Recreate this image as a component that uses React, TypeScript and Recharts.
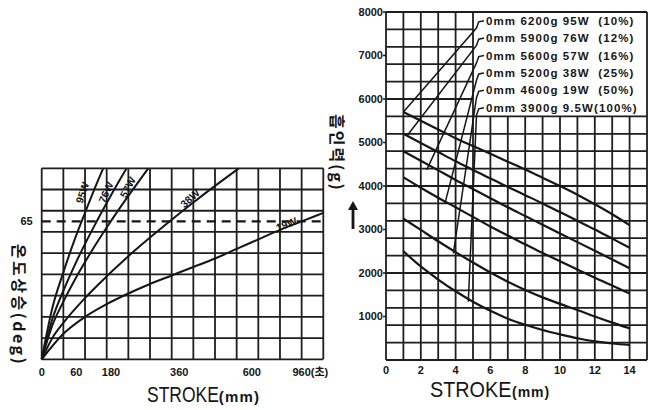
import React from 'react';
import { LineChart, Line, XAxis, YAxis, ReferenceLine, ReferenceDot } from 'recharts';

// ---------- left chart: 온도상승 (deg) vs time ----------
const leftGridX = [0, 1, 2, 3, 4, 5, 6, 7, 8, 9, 10, 11, 12, 13];
const leftGridY = [0, 10, 20, 30, 40, 50, 60, 70, 80, 90];
const leftTickPos = [0, 1.6, 3.2, 6.35, 9.7, 12.4];
const leftTickLabels = ['0', '60', '180', '360', '600', '960(초)'];
const leftYTicks = [65];
const limitTemp = 65;

const t95 = [0, 0.5, 1, 1.5, 2, 2.5, 2.84];
const v95 = [0, 24.5, 41, 55.8, 69, 81.8, 90];
const t76 = [0, 0.5, 1, 1.5, 2, 2.5, 3, 3.5, 3.92];
const v76 = [0, 19.2, 32.3, 43.8, 54.4, 64.2, 73.6, 82.7, 90];
const t57 = [0, 0.5, 1, 1.5, 2, 2.5, 3, 3.5, 4, 4.5, 4.92];
const v57 = [0, 16.2, 27.2, 36.9, 45.8, 54.2, 62.1, 69.7, 77, 84.1, 90];
const t38 = [0, 0.5, 1, 2, 3, 4, 5, 6, 7, 8, 9.1];
const v38 = [0, 10.2, 17.2, 28.9, 39.1, 48.6, 57.4, 65.8, 73.9, 81.7, 90];
const t19 = [0, 1, 2, 3, 4, 5, 6, 7, 8, 9, 10, 11, 12, 13];
const v19 = [0, 12, 20, 26, 31, 35.5, 39.5, 43.5, 47.5, 52, 56.5, 61, 65, 69];

const leftLabelText = ['95W', '76W', '57W', '38W', '19W'];
const leftLabelX = [1.88, 2.97, 3.98, 6.85, 11.3];
const leftLabelY = [78.5, 78.7, 81, 75.8, 63.6];
const leftLabelAngle = [-72, -66, -62, -42, -22];

// ---------- right chart: 흡인력 (g) vs stroke ----------
const rightGridX = [0, 1, 2, 3, 4, 5, 6, 7, 8, 9, 10, 11, 12, 13, 14, 15];
const rightGridY = [0, 400, 800, 1200, 1600, 2000, 2400, 2800, 3200, 3600, 4000, 4400, 4800, 5200, 5600, 6000, 6400, 6800, 7200, 7600, 8000];
const rightXTicks = [0, 2, 4, 6, 8, 10, 12, 14];
const rightYTicks = [1000, 2000, 3000, 4000, 5000, 6000, 7000, 8000];
const boxX = 5;
const boxY = 5600;

const stroke = [1, 2, 3, 4, 5, 6, 7, 8, 9, 10, 11, 12, 13, 14];
const f95 = [5700, 5500, 5300, 5100, 4920, 4740, 4560, 4380, 4190, 4000, 3800, 3580, 3350, 3100];
const f76 = [5200, 4990, 4780, 4570, 4370, 4170, 3980, 3790, 3600, 3400, 3200, 3000, 2790, 2580];
const f57 = [4800, 4580, 4360, 4140, 3930, 3720, 3510, 3310, 3110, 2910, 2710, 2510, 2310, 2110];
const f38 = [4200, 3960, 3730, 3510, 3290, 3070, 2860, 2660, 2460, 2270, 2080, 1890, 1710, 1530];
const f19 = [3250, 2990, 2730, 2480, 2240, 2010, 1800, 1610, 1440, 1290, 1150, 1000, 860, 730];
const f9 = [2500, 2150, 1850, 1580, 1340, 1130, 950, 810, 690, 590, 500, 430, 380, 345];

const legendText = [
  '0mm 6200g 95W\u00a0\u00a0(10%)',
  '0mm 5900g 76W\u00a0\u00a0(12%)',
  '0mm 5600g 57W\u00a0\u00a0(16%)',
  '0mm 5200g 38W\u00a0\u00a0(25%)',
  '0mm 4600g 19W\u00a0\u00a0(50%)',
  '0mm 3900g 9.5W(100%)',
];
const legendRow = [7800, 7400, 7000, 6600, 6200, 5800];
const leaderStartX = [1.0, 1.2, 2.34, 3.39, 3.87, 4.73];
const leaderStartY = [5700, 5150, 4370, 3600, 2450, 1340];
const legendX = 5.63;

const zip = (xs: number[], ys: number[]) => xs.map((x, i) => ({ x, y: ys[i] }));

const INK = '#161616';
const GRID = '#1e1e1e';
const tickFont = { fontSize: 11, fontWeight: 700, fill: INK, fontFamily: '"Liberation Sans", Arial, "Noto Sans CJK KR", sans-serif' };

const rotatedLabel = (txt: string, angle: number) => (p: any) => {
  const vb = p.viewBox || {};
  const cx = (vb.x || 0) + (vb.width || 0) / 2;
  const cy = (vb.y || 0) + (vb.height || 0) / 2;
  return (
    <text x={cx} y={cy} dy="0.35em" textAnchor="middle" transform={`rotate(${angle}, ${cx}, ${cy})`}
      fontSize={10.5} fontWeight={700} fill={INK} fontFamily='"Liberation Sans", Arial, sans-serif'>
      {txt}
    </text>
  );
};

const legendLabel = (txt: string) => (p: any) => {
  const vb = p.viewBox || {};
  return (
    <text x={(vb.x || 0) + 2} y={vb.y || 0} dy="0.36em" fontSize={11.5} fontWeight={700} fill={INK}
      letterSpacing={1.1} fontFamily='"Liberation Sans", Arial, sans-serif'>
      {txt}
    </text>
  );
};

const leftSeries = [zip(t95, v95), zip(t76, v76), zip(t57, v57), zip(t38, v38), zip(t19, v19)];
const rightSeries = [f95, f76, f57, f38, f19, f9].map((f) => zip(stroke, f));
const leaders = legendRow.map((row, i) => [
  { x: leaderStartX[i], y: leaderStartY[i] },
  { x: 5.2, y: row - 170 },
  { x: 5.33, y: row - 25 },
  { x: legendX, y: row },
]);

const vLabel = (left: number, top: number, text: string, size: number, spacing: number) => (
  <div style={{
    position: 'absolute', left, top, transform: 'translate(-50%, -50%) rotate(90deg)', whiteSpace: 'nowrap',
    fontSize: size, fontWeight: 700, letterSpacing: spacing, lineHeight: 1, color: INK,
    fontFamily: '"Noto Sans CJK KR", "Liberation Sans", sans-serif',
  }}>{text}</div>
);

const strokeTitle = (left: number, top: number, w: number, sx: number, mmSize: number, mmSpacing: number) => (
  <div style={{ position: 'absolute', left, top, display: 'flex', alignItems: 'baseline', whiteSpace: 'nowrap', color: INK, fontFamily: '"Liberation Sans", Arial, sans-serif', lineHeight: '22px' }}>
    <span style={{ display: 'inline-block', width: w, fontSize: 22, transform: `scaleX(${sx})`, transformOrigin: 'left' }}>STROKE</span>
    <span style={{ fontSize: mmSize, fontWeight: 700, letterSpacing: mmSpacing }}>(mm)</span>
  </div>
);

export default function App() {
  return (
    <div style={{ position: 'absolute', left: 0, top: 0, width: 657, height: 410, background: '#fff', overflow: 'hidden' }}>
      <div style={{ position: 'absolute', left: 0, top: 0 }}>
        <LineChart width={340} height={410} margin={{ top: 168.3, right: 16.7, bottom: 0, left: 0 }}>
          <XAxis type="number" dataKey="x" domain={[0, 13]} ticks={leftTickPos} interval={0}
            tickFormatter={(v: number) => leftTickLabels[leftTickPos.indexOf(v)]}
            axisLine={false} tickLine={false} tickSize={4} tickMargin={4.5} height={50.7} tick={tickFont} />
          <YAxis type="number" domain={[0, 90]} ticks={leftYTicks} interval={0} width={41.7}
            axisLine={false} tickLine={false} tickSize={4} tickMargin={5} tick={tickFont} />
          {leftGridX.map((x) => <ReferenceLine key={'lx' + x} x={x} stroke={GRID} strokeWidth={1.8} />)}
          {leftGridY.map((y) => <ReferenceLine key={'ly' + y} y={y} stroke={GRID} strokeWidth={1.8} />)}
          <ReferenceLine y={limitTemp} stroke={INK} strokeWidth={2.2} strokeDasharray="9 6" />
          {leftSeries.map((d, i) => (
            <Line key={'ls' + i} data={d} dataKey="y" type="monotone" stroke={INK} strokeWidth={2}
              dot={false} activeDot={false} isAnimationActive={false} />
          ))}
          {leftLabelText.map((t, i) => (
            <ReferenceDot key={'ll' + i} x={leftLabelX[i]} y={leftLabelY[i]} r={0} stroke="none"
              label={rotatedLabel(t, leftLabelAngle[i])} />
          ))}
        </LineChart>
      </div>

      <div style={{ position: 'absolute', left: 330, top: 0 }}>
        <LineChart width={327} height={410} margin={{ top: 12, right: 10, bottom: 0, left: 0 }}>
          <XAxis type="number" dataKey="x" domain={[0, 15]} ticks={rightXTicks} interval={0}
            axisLine={false} tickLine={false} tickSize={2} tickMargin={4} height={50} tick={tickFont} />
          <YAxis type="number" domain={[0, 8000]} ticks={rightYTicks} interval={0} width={56}
            axisLine={false} tickLine={{ stroke: INK, strokeWidth: 1.5 }} tickSize={3} tickMargin={0} tick={tickFont} />
          {rightGridX.map((x) => (
            x > boxX && x < 15
              ? <ReferenceLine key={'rx' + x} segment={[{ x, y: 0 }, { x, y: boxY }]} stroke={GRID} strokeWidth={1.8} />
              : <ReferenceLine key={'rx' + x} x={x} stroke={GRID} strokeWidth={1.8} />
          ))}
          {rightGridY.map((y) => (
            y > boxY && y < 8000
              ? <ReferenceLine key={'ry' + y} segment={[{ x: 0, y }, { x: boxX, y }]} stroke={GRID} strokeWidth={1.8} />
              : <ReferenceLine key={'ry' + y} y={y} stroke={GRID} strokeWidth={1.8} />
          ))}
          {rightSeries.map((d, i) => (
            <Line key={'rs' + i} data={d} dataKey="y" type="monotone" stroke={INK} strokeWidth={2.2}
              dot={false} activeDot={false} isAnimationActive={false} />
          ))}
          {leaders.map((d, i) => (
            <Line key={'ld' + i} data={d} dataKey="y" type="linear" stroke={INK} strokeWidth={1.5}
              dot={false} activeDot={false} isAnimationActive={false} />
          ))}
          {legendText.map((t, i) => (
            <ReferenceDot key={'lg' + i} x={legendX} y={legendRow[i]} r={0} stroke="none" label={legendLabel(t)} />
          ))}
        </LineChart>
      </div>

      {vLabel(20, 305, '온도상승(deg)', 16, 2.5)}
      {vLabel(338, 153, '흡인력(g)', 16, 2)}
      <svg style={{ position: 'absolute', left: 347, top: 201 }} width={12} height={28}>
        <polygon points="6,0 11,9 1,9" fill={INK} />
        <rect x={4.6} y={8} width={2.8} height={20} fill={INK} />
      </svg>
      {strokeTitle(146.7, 384, 72, 0.795, 15, 1.2)}
      {strokeTitle(430, 379, 82, 0.9, 14, 1)}
    </div>
  );
}
